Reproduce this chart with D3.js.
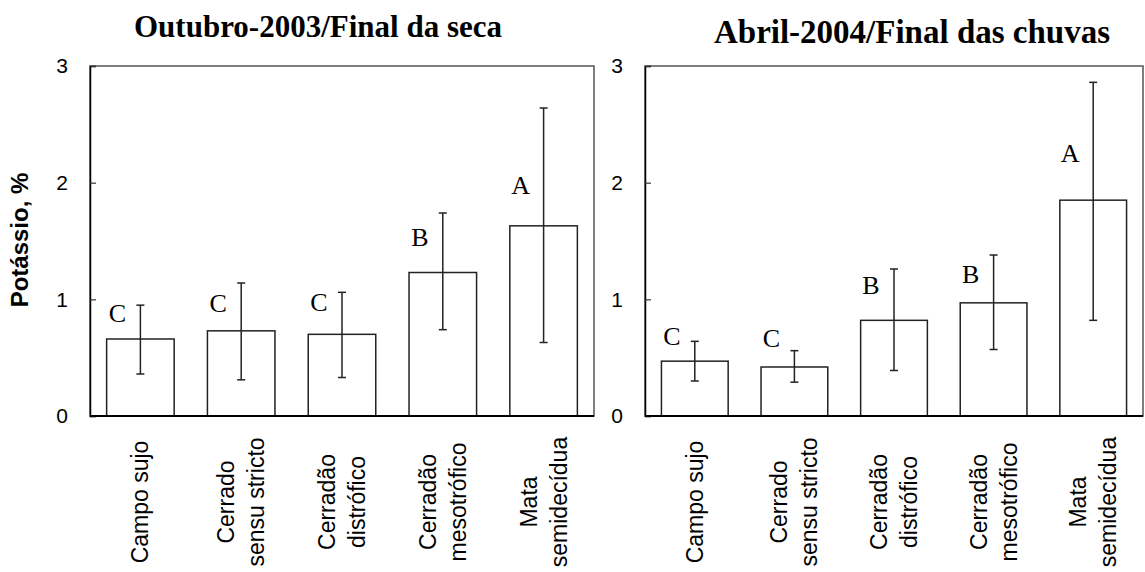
<!DOCTYPE html>
<html>
<head>
<meta charset="utf-8">
<script src="https://cdn.jsdelivr.net/npm/d3@7"></script>
<style>
  html, body { margin: 0; padding: 0; background: #fff; }
  svg { display: block; }
</style>
</head>
<body>
<svg id="chart" width="1145" height="572"></svg>
<script>
// ---------- data ----------
const categories = ["Campo sujo", "Cerrado\nsensu stricto", "Cerradão\ndistrófico", "Cerradão\nmesotrófico", "Mata\nsemidecídua"];
const yTicks = [0, 1, 2, 3];

const out2003Title = "Outubro-2003/Final da seca";
const out2003Mean  = [0.66, 0.73, 0.70, 1.23, 1.63];
const out2003Upper = [0.95, 1.14, 1.06, 1.74, 2.64];
const out2003Lower = [0.36, 0.31, 0.33, 0.74, 0.63];
const out2003Letters = ["C", "C", "C", "B", "A"];
const out2003LetterAt = [0.81, 0.89, 0.90, 1.46, 1.90];

const abr2004Title = "Abril-2004/Final das chuvas";
const abr2004Mean  = [0.47, 0.42, 0.82, 0.97, 1.85];
const abr2004Upper = [0.64, 0.56, 1.26, 1.38, 2.86];
const abr2004Lower = [0.30, 0.29, 0.39, 0.57, 0.82];
const abr2004Letters = ["C", "C", "B", "B", "A"];
const abr2004LetterAt = [0.61, 0.59, 1.05, 1.14, 2.18];

const yLabel = "Potássio, %";

// ---------- drawing ----------
const svg = d3.select("#chart");

const panels = [
  { title: out2003Title, mean: out2003Mean, up: out2003Upper, lo: out2003Lower, letters: out2003Letters, letterAt: out2003LetterAt,
    x0: 90, x1: 594, y0: 66, y1: 416, titleX: 318, titleY: 37, titleSize: 31 },
  { title: abr2004Title, mean: abr2004Mean, up: abr2004Upper, lo: abr2004Lower, letters: abr2004Letters, letterAt: abr2004LetterAt,
    x0: 645, x1: 1143, y0: 66, y1: 416, titleX: 912, titleY: 43, titleSize: 33 }
];

panels.forEach(p => {
  const g = svg.append("g");
  const x = d3.scaleBand().domain(categories).range([p.x0, p.x1]).paddingInner(0.33).paddingOuter(0.165);
  const y = d3.scaleLinear().domain([0, 3]).range([p.y1, p.y0]);

  // title
  g.append("text")
    .attr("x", p.titleX).attr("y", p.titleY)
    .attr("text-anchor", "middle")
    .attr("font-family", "'Liberation Serif', 'Times New Roman', serif")
    .attr("font-weight", "bold")
    .attr("font-size", p.titleSize)
    .text(p.title);

  // frame (top and right)
  g.append("rect")
    .attr("x", p.x0).attr("y", p.y0)
    .attr("width", p.x1 - p.x0).attr("height", p.y1 - p.y0)
    .attr("fill", "none").attr("stroke", "#555").attr("stroke-width", 1.5);

  // bars
  g.selectAll("rect.bar").data(categories).join("rect")
    .attr("class", "bar")
    .attr("x", d => x(d))
    .attr("y", (d, i) => y(p.mean[i]))
    .attr("width", x.bandwidth())
    .attr("height", (d, i) => y(0) - y(p.mean[i]))
    .attr("fill", "#fff").attr("stroke", "#222").attr("stroke-width", 1.5);

  // error bars
  const eb = g.selectAll("g.eb").data(categories).join("g").attr("class", "eb");
  eb.append("line")
    .attr("x1", d => x(d) + x.bandwidth() / 2).attr("x2", d => x(d) + x.bandwidth() / 2)
    .attr("y1", (d, i) => y(p.lo[i])).attr("y2", (d, i) => y(p.up[i]))
    .attr("stroke", "#222").attr("stroke-width", 1.5);
  eb.append("line")
    .attr("x1", d => x(d) + x.bandwidth() / 2 - 4).attr("x2", d => x(d) + x.bandwidth() / 2 + 4)
    .attr("y1", (d, i) => y(p.up[i])).attr("y2", (d, i) => y(p.up[i]))
    .attr("stroke", "#222").attr("stroke-width", 1.5);
  eb.append("line")
    .attr("x1", d => x(d) + x.bandwidth() / 2 - 4).attr("x2", d => x(d) + x.bandwidth() / 2 + 4)
    .attr("y1", (d, i) => y(p.lo[i])).attr("y2", (d, i) => y(p.lo[i]))
    .attr("stroke", "#222").attr("stroke-width", 1.5);

  // letters
  g.selectAll("text.letter").data(categories).join("text")
    .attr("class", "letter")
    .attr("x", d => x(d) + x.bandwidth() / 2 - 23)
    .attr("y", (d, i) => y(p.letterAt[i]))
    .attr("text-anchor", "middle")
    .attr("font-family", "'Liberation Serif', 'Times New Roman', serif")
    .attr("font-size", 26)
    .text((d, i) => p.letters[i]);

  // y axis (ticks pointing inward)
  const yAxis = d3.axisRight(y).tickValues(yTicks).tickSize(6).tickFormat("");
  const ya = g.append("g").attr("transform", `translate(${p.x0},0)`).call(yAxis);
  ya.select(".domain").attr("stroke", "#000").attr("stroke-width", 1.5);
  ya.selectAll(".tick line").attr("stroke", "#333").attr("stroke-width", 1.2);
  g.selectAll("text.ytick").data(yTicks).join("text")
    .attr("class", "ytick")
    .attr("x", p.x0 - 22).attr("y", d => y(d))
    .attr("dy", "0.35em")
    .attr("text-anchor", "end")
    .attr("font-family", "'Liberation Sans', Arial, sans-serif")
    .attr("font-size", 21)
    .text(d => d);

  // x axis line
  g.append("line")
    .attr("x1", p.x0).attr("x2", p.x1).attr("y1", y(0)).attr("y2", y(0))
    .attr("stroke", "#000").attr("stroke-width", 2);

  // category labels (rotated)
  const cl = g.selectAll("g.cat").data(categories).join("g")
    .attr("class", "cat")
    .attr("transform", d => `translate(${x(d) + x.bandwidth() / 2},502) rotate(-90)`);
  cl.each(function(d) {
    const lines = d.split("\n");
    const n = lines.length;
    lines.forEach((ln, k) => {
      d3.select(this).append("text")
        .attr("x", 0)
        .attr("y", (k - (n - 1) / 2) * 30)
        .attr("dy", "0.35em")
        .attr("text-anchor", "middle")
        .attr("font-family", "'Liberation Sans', Arial, sans-serif")
        .attr("font-size", 23)
        .text(ln);
    });
  });
});

// y label
svg.append("text")
  .attr("transform", "translate(28,240) rotate(-90)")
  .attr("text-anchor", "middle")
  .attr("font-family", "'Liberation Sans', Arial, sans-serif")
  .attr("font-weight", "bold")
  .attr("font-size", 24)
  .text(yLabel);
</script>
</body>
</html>
